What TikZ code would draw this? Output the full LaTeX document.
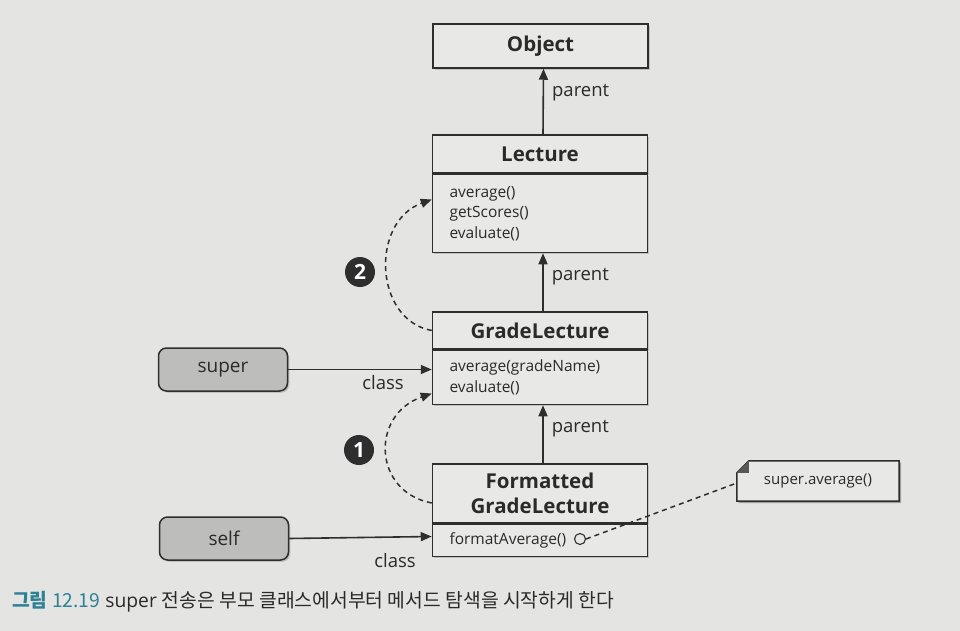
\documentclass[tikz,border=0pt]{standalone}
\usepackage{fontspec}
\setmainfont{Open Sans}
\newfontfamily\krfont{Noto Sans CJK KR}
\usetikzlibrary{arrows.meta,calc,shadows}
\definecolor{bgc}{HTML}{E4E4E2}
\definecolor{boxc}{HTML}{E8E8E6}
\definecolor{refc}{HTML}{BDBDBC}
\definecolor{lc}{HTML}{2E2E2E}
\definecolor{tc}{HTML}{2A2A2A}
\definecolor{capc}{HTML}{2F8295}
\tikzset{
  shd/.style={drop shadow={shadow xshift=1.8pt,shadow yshift=-1.8pt,opacity=0.35}},
  clsbox/.style={draw=lc, line width=1.5pt, fill=boxc, shd, minimum width=215pt, inner sep=0pt,
    align=center, text=tc, font=\fontsize{20.5}{24}\selectfont\bfseries},
  bodybox/.style={draw=lc, line width=1.5pt, fill=boxc, shd, anchor=north, minimum width=215pt,
    text width=181pt, inner xsep=17pt, inner ysep=0pt, align=left, text=tc,
    font=\fontsize{15.5}{20.5}\selectfont},
  refbox/.style={draw=lc, line width=1.5pt, fill=refc, shd, rounded corners=8pt, minimum width=129pt,
    minimum height=43pt, text=tc, font=\fontsize{19}{22}\selectfont},
  arr/.style={draw=lc, line width=1.6pt, -{Triangle[length=11pt,width=9pt]}},
  darr/.style={draw=lc, line width=1.5pt, dash pattern=on 5pt off 4pt, -{Triangle[length=11pt,width=9pt]}},
  lbl/.style={text=tc, font=\fontsize{18.5}{22}\selectfont, inner sep=2pt},
  numc/.style={circle, fill=lc, text=white, minimum size=30pt, inner sep=0pt,
    font=\fontsize{21}{21}\selectfont\bfseries},
}
\begin{document}
\begin{tikzpicture}[x=1pt,y=-1pt]
\fill[bgc] (0,0) rectangle (960,631);
\useasboundingbox (0,0) rectangle (960,631);

% class boxes
\node[clsbox, minimum height=44pt] (obj) at (540.5,46) {Object};

\node[clsbox, minimum height=38pt] (lect) at (540,154) {Lecture};
\node[bodybox, minimum height=78pt] (lecb) at (lect.south) {average()\\getScores()\\evaluate()};

\node[clsbox, minimum height=37pt] (glt) at (540,330.5) {GradeLecture};
\node[bodybox, minimum height=54pt] (glb) at (glt.south) {average(gradeName)\\evaluate()};

\node[clsbox, minimum height=59pt, font=\fontsize{20.5}{25}\selectfont\bfseries] (fglt) at (540,493.5) {Formatted\\GradeLecture};
\node[bodybox, minimum height=32pt] (fglb) at (fglt.south) {formatAverage()};
\node[circle, draw=lc, line width=1.1pt, fill=boxc, minimum size=11pt, inner sep=0pt] (dot) at (580,539) {};

% reference boxes
\node[refbox] (sup) at (223,369.5) {super};
\node[refbox] (slf) at (224,538.5) {self};

% note
\node[minimum width=162pt, minimum height=40pt, inner sep=0pt] (note) at (818,481) {};
\fill[black, opacity=0.3] ([shift={(13.8pt,-1.8pt)}]note.north west) -- ([shift={(1.8pt,-1.8pt)}]note.north east) -- ([shift={(1.8pt,-1.8pt)}]note.south east) -- ([shift={(1.8pt,-1.8pt)}]note.south west) -- ([shift={(1.8pt,-13.8pt)}]note.north west) -- cycle;
\filldraw[draw=lc, fill=boxc, line width=1.5pt] ([xshift=12pt]note.north west) -- (note.north east) -- (note.south east) -- (note.south west) -- ([yshift=-12pt]note.north west) -- cycle;
\fill[lc!80] ([xshift=12pt]note.north west) -- ([yshift=-12pt]note.north west) -- ([shift={(12pt,-12pt)}]note.north west) -- cycle;
\node[text=tc, font=\fontsize{15}{18}\selectfont, inner sep=0pt] (notetxt) at (note.center) {super.average()};

% parent arrows
\draw[arr] ([xshift=3pt]lect.north) -- node[lbl, pos=0.64, anchor=west, xshift=6pt] {parent} ([xshift=3pt]obj.south);
\draw[arr] ([xshift=3pt]glt.north) -- node[lbl, pos=0.6, anchor=west, xshift=6pt] {parent} ([xshift=3pt]lecb.south);
\draw[arr] ([xshift=3pt]fglt.north) -- node[lbl, pos=0.6, anchor=west, xshift=6pt] {parent} ([xshift=3pt]glb.south);

% class arrows
\draw[arr] (sup.east) -- (sup.east -| glb.west);
\node[lbl] (cls1) at (383,383) {class};
\draw[arr] (slf.east) -- ([yshift=2pt]slf.east -| fglb.west);
\node[lbl] (cls2) at (395,561) {class};

% dashed lookup curves
\draw[darr] ([yshift=-9.5pt]fglt.west) .. controls (373,492) and (370,415) .. ([yshift=-16pt]glb.west);
\draw[darr] (glt.west) .. controls (374,320) and (370,222) .. ([yshift=14pt]lecb.west);
\node[numc] (n1) at (359,450) {1};
\node[numc] (n2) at (360,272) {2};

% note connector
\draw[lc, line width=1.5pt, dash pattern=on 5pt off 4pt] (dot.east) -- ([yshift=-2pt]note.west);

% caption
\node[anchor=west, inner sep=0pt, font=\fontsize{19.3}{22}\selectfont, text=tc] (cap) at (12,602)
  {{\color{capc}\krfont\bfseries 그림 \mdseries 12.19} super {\krfont 전송은 부모 클래스에서부터 메서드 탐색을 시작하게 한다}};
\end{tikzpicture}
\end{document}
